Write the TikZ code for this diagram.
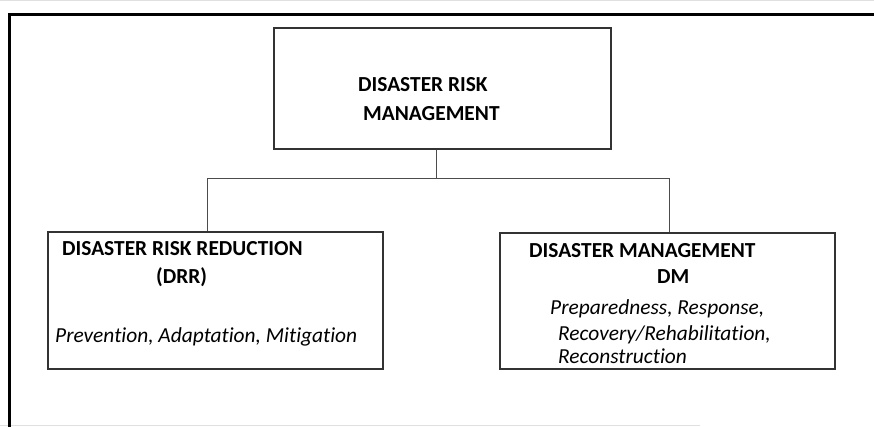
\documentclass[tikz,border=0pt]{standalone}
\usepackage{fontspec}
\setmainfont[Ligatures={NoCommon}]{Carlito}
\begin{document}
\begin{tikzpicture}[x=1pt,y=-1pt,
  box/.style={draw=black!80,line width=1.1pt,minimum width=#1,inner sep=0pt},
  lbl/.style={anchor=base west,inner sep=0pt,font=\fontsize{21.4}{25}\selectfont\bfseries},
  itl/.style={anchor=base west,inner sep=0pt,font=\fontsize{21.4}{25}\selectfont\itshape},
  conn/.style={draw=black!70,line width=1pt},
  frame/.style={line width=3pt,line cap=rect}]
\useasboundingbox (0,0) rectangle (874,426);
% faint page edges
\draw[black!12,line width=1pt] (0,0.5) -- (874,0.5);
\draw[black!12,line width=1pt] (0,425.5) -- (700,425.5);
% outer frame
\coordinate (fb) at (9,426);
\coordinate (fc) at (9,14.5);
\coordinate (fr) at (874,14.5);
\draw[frame] (fb) -- (fc) -- (fr);
% boxes
\node[box=337pt,minimum height=121pt] (top) at (442.5,88.5) {};
\node[box=335pt,minimum height=137pt] (left) at (215.5,300.5) {};
\node[box=335pt,minimum height=136pt] (right) at (667.5,301) {};
% texts
\node[lbl] (t1) at (358,91.7) {DISASTER RISK};
\node[lbl] (t2) at (363,120.7) {MANAGEMENT};
\node[lbl] (l1) at (62,255.7) {DISASTER RISK REDUCTION};
\node[lbl] (l2) at (156,283) {(DRR)};
\node[itl] (l3) at (55,342) {Prevention, Adaptation, Mitigation};
\node[lbl] (r1) at (529,257.5) {DISASTER MANAGEMENT};
\node[lbl] (r2) at (657,283.3) {DM};
\node[itl] (r3) at (550,314) {Preparedness, Response,};
\node[itl] (r4) at (558,340) {Recovery/Rehabilitation,};
\node[itl] (r5) at (558,363.3) {Reconstruction};
% connectors
\coordinate (jm) at (436,178.3);
\coordinate (jl) at (207,178.3);
\coordinate (jr) at (669,178.3);
\draw[conn] (top.south -| jm) -- (jm);
\draw[conn] (jl) -- (jr);
\draw[conn] (jl) -- (left.north -| jl);
\draw[conn] (jr) -- (right.north -| jr);
\end{tikzpicture}
\end{document}
